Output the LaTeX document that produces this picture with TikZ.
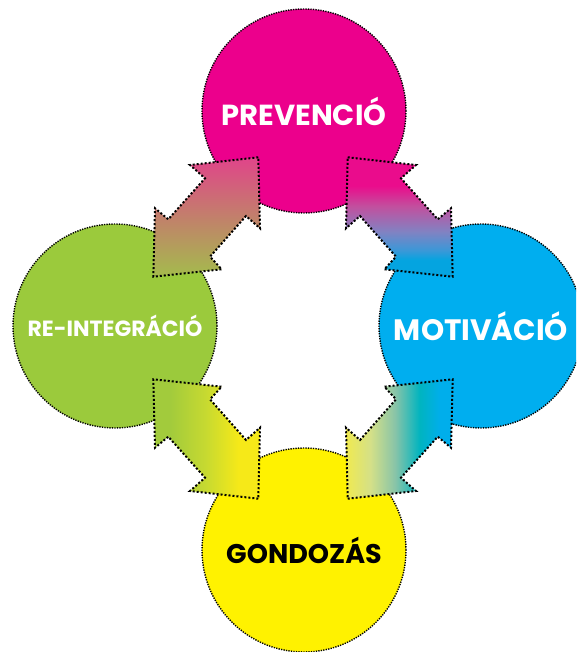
\documentclass[tikz,border=0pt]{standalone}
\usepackage{fontspec}
\setmainfont{Poppins}
\definecolor{cpink}{HTML}{EC008C}
\definecolor{cblue}{HTML}{00AEEF}
\definecolor{cgreen}{HTML}{9BCA3C}
\definecolor{cyellow}{HTML}{FFF200}
\definecolor{tlA}{HTML}{E0448A}
\definecolor{tlB}{HTML}{A4BC4C}
\definecolor{trA}{HTML}{EA0C8C}
\definecolor{trB}{HTML}{C2509E}
\definecolor{trC}{HTML}{8282C2}
\definecolor{trD}{HTML}{3A98D8}
\definecolor{trE}{HTML}{04A4E0}
\definecolor{blA}{HTML}{A2CB3C}
\definecolor{blB}{HTML}{C8DA30}
\definecolor{blC}{HTML}{F6E918}
\definecolor{brA}{HTML}{F0EA50}
\definecolor{brB}{HTML}{D4E088}
\definecolor{brC}{HTML}{88C4A8}
\definecolor{brD}{HTML}{00B4C0}
\definecolor{brE}{HTML}{00AEEB}
\pgfdeclareverticalshading{trsh}{100bp}{color(0bp)=(trE); color(25bp)=(trE); color(32bp)=(trE); color(36bp)=(trD); color(44bp)=(trC); color(54.5bp)=(trB); color(63bp)=(trA); color(100bp)=(trA)}
\pgfdeclarehorizontalshading{blsh}{100bp}{color(0bp)=(blA); color(25bp)=(blA); color(33bp)=(blA); color(50bp)=(blB); color(65bp)=(blC); color(100bp)=(blC)}
\pgfdeclarehorizontalshading{brsh}{100bp}{color(0bp)=(brA); color(25bp)=(brA); color(36.5bp)=(brB); color(48bp)=(brC); color(59.5bp)=(brD); color(69bp)=(brE); color(100bp)=(brE)}
\begin{document}
\begin{tikzpicture}[x=1pt,y=-1pt,
  bubble/.style={circle, minimum size=204pt, inner sep=0pt, draw=black,
    line width=1.4pt, dash pattern=on 1.3pt off 1.2pt},
  arrowline/.style={draw=black, line width=2pt, dash pattern=on 2pt off 2pt},
  lbl/.style={font=\bfseries\fontsize{#1}{#1}\selectfont}]
\useasboundingbox (0,0) rectangle (576,652);
\clip (0,0) rectangle (576,652);
% circles
\node[bubble, fill=cpink, text=white, lbl=29] (prev) at (304,111) {PREVENCIÓ};
\node[bubble, fill=cblue, text=white, lbl=29.5] (motiv) at (481,326) {MOTIVÁCIÓ};
\node[bubble, fill=cgreen, text=white, lbl=22] (reint) at (115,326) {RE-INTEGRÁCIÓ};
\node[bubble, fill=cyellow, text=black, lbl=27] (gond) at (304,550) {GONDOZÁS};
% arrows
\shadedraw[top color=tlA, bottom color=tlB, arrowline]
  (258.3,157.3) -- (190,165) -- (205,178.3) -- (168.3,219.3) -- (155,208.3)
  -- (153.3,276.7) -- (221.7,269.3) -- (210,256.7) -- (246,216) -- (260,228.3) -- cycle;
\shadedraw[shading=trsh, arrowline]
  (347.7,157.3) -- (416,165) -- (401,178.3) -- (437.7,219.3) -- (451,208.3)
  -- (452.7,276.7) -- (384.3,269.3) -- (396,256.7) -- (360,216) -- (346,228.3) -- cycle;
\shadedraw[shading=blsh, arrowline]
  (258.3,498.7) -- (190,491) -- (205,477.7) -- (168.3,436.7) -- (155,447.7)
  -- (153.3,379.3) -- (221.7,386.7) -- (210,399.3) -- (246,440) -- (260,427.7) -- cycle;
\shadedraw[shading=brsh, arrowline]
  (347.7,498.7) -- (416,491) -- (401,477.7) -- (437.7,436.7) -- (451,447.7)
  -- (452.7,379.3) -- (384.3,386.7) -- (396,399.3) -- (360,440) -- (346,427.7) -- cycle;
\end{tikzpicture}
\end{document}
